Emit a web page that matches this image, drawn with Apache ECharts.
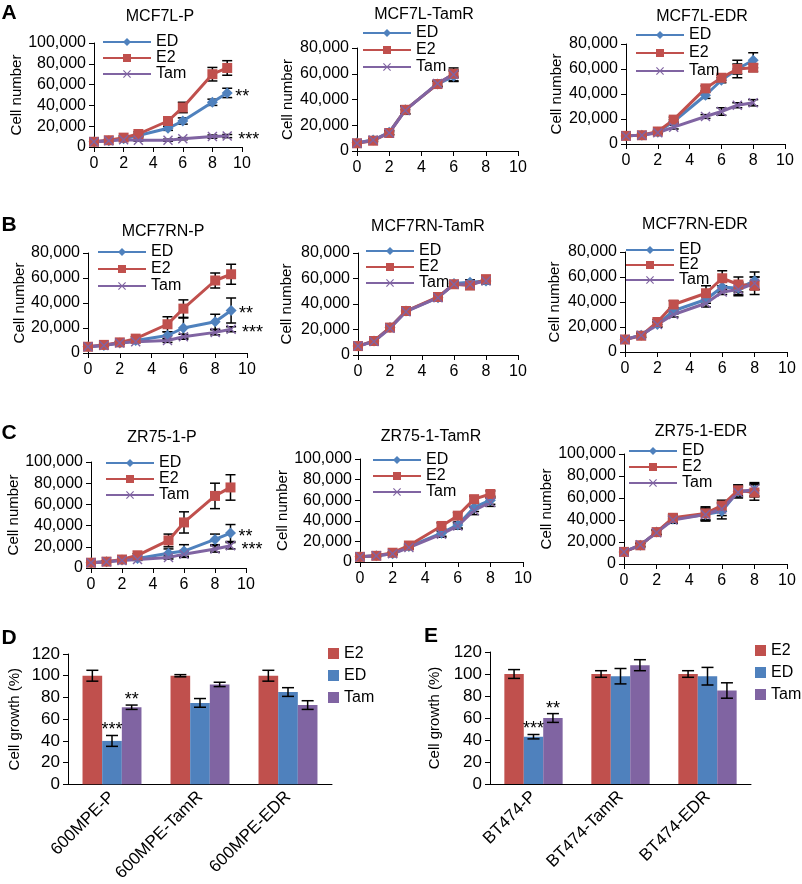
<!DOCTYPE html>
<html><head><meta charset="utf-8">
<script src="https://cdn.jsdelivr.net/npm/echarts@6/dist/echarts.min.js"></script>
<style>html,body{margin:0;padding:0;background:#fff}#c{width:802px;height:884px}</style>
</head><body><div id="c"></div>
<script>
// ---------------- DATA ----------------
const seriesNames = ['ED', 'E2', 'Tam'];
const panelTitles = ['MCF7L-P','MCF7L-TamR','MCF7L-EDR','MCF7RN-P','MCF7RN-TamR','MCF7RN-EDR','ZR75-1-P','ZR75-1-TamR','ZR75-1-EDR'];
const panelLetters = ['A','B','C','D','E'];
const xTicks = [0, 2, 4, 6, 8, 10];

// MCF7L-P
const mcf7lP_days = [0,1,2,3,5,6,8,9];
const mcf7lP_ED = [5000,6000,8000,11000,18000,25000,43000,52000];
const mcf7lP_ED_sd = [500,800,1000,1500,2000,3000,3000,4500];
const mcf7lP_E2 = [5000,6500,9000,12500,25000,38000,70000,76000];
const mcf7lP_E2_sd = [500,800,1500,2000,2500,5000,6500,7000];
const mcf7lP_Tam = [5000,6000,7000,6500,6500,8000,10000,10500];
const mcf7lP_Tam_sd = [500,500,800,800,1000,1000,1500,1500];
// MCF7L-TamR
const mcf7lT_days = [0,1,2,3,5,6];
const mcf7lT_ED = [6500,8500,14500,32000,52000,58000];
const mcf7lT_ED_sd = [1000,1000,1500,3000,2000,4000];
const mcf7lT_E2 = [6000,8000,14000,32000,52000,60000];
const mcf7lT_E2_sd = [1000,1000,1500,3000,2000,3000];
const mcf7lT_Tam = [6000,8500,14000,31500,52500,59500];
const mcf7lT_Tam_sd = [1000,1000,1500,3000,2000,5000];
// MCF7L-EDR
const mcf7lE_days = [0,1,2,3,5,6,7,8];
const mcf7lE_ED = [6500,7000,9500,18000,39000,51000,60000,67000];
const mcf7lE_ED_sd = [800,800,1000,1500,2500,2000,7000,6000];
const mcf7lE_E2 = [6500,7000,10000,19500,44500,53000,60000,61000];
const mcf7lE_E2_sd = [800,800,1000,2000,2000,2000,4000,3000];
const mcf7lE_Tam = [6500,7000,9000,13500,22000,26000,31000,33000];
const mcf7lE_Tam_sd = [800,800,800,1500,1500,3000,2000,2500];
// MCF7RN-P
const mcf7rnP_days = [0,1,2,3,5,6,8,9];
const mcf7rnP_ED = [5000,6000,8000,10000,14000,20000,25000,34000];
const mcf7rnP_ED_sd = [500,600,800,1000,3000,8000,6000,10000];
const mcf7rnP_E2 = [5000,6500,8500,11500,23000,35500,58000,63000];
const mcf7rnP_E2_sd = [500,700,1000,1500,6000,7000,6000,8000];
const mcf7rnP_Tam = [5000,6000,8000,9000,10000,13000,16500,19000];
const mcf7rnP_Tam_sd = [500,600,800,800,1500,2000,2000,2000];
// MCF7RN-TamR
const mcf7rnT_days = [0,1,2,3,5,6,7,8];
const mcf7rnT_ED = [7000,11000,21500,34500,45000,56000,57000,58000];
const mcf7rnT_ED_sd = [1000,1500,1500,2000,2500,2000,2000,2000];
const mcf7rnT_E2 = [7000,11000,21500,34500,45500,55500,54500,59500];
const mcf7rnT_E2_sd = [1000,1500,1500,2000,2500,2000,3000,2000];
const mcf7rnT_Tam = [7000,10500,21000,34000,45000,55500,55500,58000];
const mcf7rnT_Tam_sd = [1000,1500,1500,2000,2500,2000,2000,2000];
// MCF7RN-EDR
const mcf7rnE_days = [0,1,2,3,5,6,7,8];
const mcf7rnE_ED = [10000,13500,22000,33000,42000,52000,51000,57000];
const mcf7rnE_ED_sd = [1000,1500,2000,2500,3000,4000,5000,7000];
const mcf7rnE_E2 = [10000,13000,24000,38000,47000,59000,54000,53000];
const mcf7rnE_E2_sd = [1000,1500,2000,3000,6000,6000,6000,7000];
const mcf7rnE_Tam = [10000,13500,22000,30000,39000,48000,50000,55000];
const mcf7rnE_Tam_sd = [1000,1500,2000,2000,3000,2000,5000,5000];
// ZR75-1-P
const zrP_days = [0,1,2,3,5,6,8,9];
const zrP_ED = [5000,6000,7500,9000,14000,16000,27000,33000];
const zrP_ED_sd = [500,600,800,1000,4000,6000,5000,8000];
const zrP_E2 = [5000,6000,8000,12000,26000,43000,68000,76000];
const zrP_E2_sd = [500,700,1000,1500,6000,10000,12000,12000];
const zrP_Tam = [5000,6000,7000,8000,10000,13000,18000,21000];
const zrP_Tam_sd = [500,600,700,800,1500,2000,3000,3000];
// ZR75-1-TamR
const zrT_days = [0,1,2,3,5,6,7,8];
const zrT_ED = [5000,6000,8000,15000,28000,36000,53000,60000];
const zrT_ED_sd = [500,600,800,1500,3000,3000,4000,4000];
const zrT_E2 = [5000,6000,9000,16000,35000,45000,61000,66000];
const zrT_E2_sd = [500,600,800,1500,3000,3000,3000,3000];
const zrT_Tam = [5000,6000,8000,14000,27000,35000,50000,58000];
const zrT_Tam_sd = [500,600,800,1500,3000,3000,4000,4000];
// ZR75-1-EDR
const zrE_days = [0,1,2,3,5,6,7,8];
const zrE_ED = [11000,17000,29000,41000,45000,48000,66000,67000];
const zrE_ED_sd = [1000,1500,2000,3000,6000,7000,5000,6000];
const zrE_E2 = [11000,17000,29000,42000,46000,53000,67000,65000];
const zrE_E2_sd = [1000,1500,2000,3000,6000,5000,5000,7000];
const zrE_Tam = [11000,17500,28500,40000,45000,50000,65000,68000];
const zrE_Tam_sd = [1000,1500,2000,3000,5000,6000,5000,6000];
// significance marks for parental lines (at last day)
const pStarSeries = ['ED', 'Tam'];
const pStarText = ['**', '***'];

// Bar panels
const barSeriesNames = ['E2', 'ED', 'Tam'];
const dCats = ['600MPE-P', '600MPE-TamR', '600MPE-EDR'];
const dE2 = [100, 100, 100];   const dE2_sd = [5, 1, 5];
const dED = [40, 75, 85];      const dED_sd = [5, 4, 4];
const dTam = [71, 92, 73];     const dTam_sd = [2, 2, 4];
const eCats = ['BT474-P', 'BT474-TamR', 'BT474-EDR'];
const eE2 = [100, 100, 100];   const eE2_sd = [4, 3, 3];
const eED = [43, 98, 98];      const eED_sd = [2, 7, 8];
const eTam = [60, 108, 85];    const eTam_sd = [4, 5, 7];
const barStarSeries = ['ED', 'Tam'];
const barStarText = ['***', '**'];
const yLabelCell = 'Cell number';
const yLabelGrowth = 'Cell growth (%)';

// ---------------- BUILD ----------------
const FONT = '"Liberation Sans", Arial, sans-serif';
const COL = {ED:'#4F81BD', E2:'#C0504D', Tam:'#8064A2'};
const SYM = {ED:'diamond', E2:'rect', Tam:'path://M1,0 L5,4 L9,0 L10,1 L6,5 L10,9 L9,10 L5,6 L1,10 L0,9 L4,5 L0,1 Z'};
const SYMSIZE = {ED:11, E2:10, Tam:10};

const lineData = [
 {days:mcf7lP_days, ED:[mcf7lP_ED,mcf7lP_ED_sd], E2:[mcf7lP_E2,mcf7lP_E2_sd], Tam:[mcf7lP_Tam,mcf7lP_Tam_sd], ymax:100000, stars:true},
 {days:mcf7lT_days, ED:[mcf7lT_ED,mcf7lT_ED_sd], E2:[mcf7lT_E2,mcf7lT_E2_sd], Tam:[mcf7lT_Tam,mcf7lT_Tam_sd], ymax:80000},
 {days:mcf7lE_days, ED:[mcf7lE_ED,mcf7lE_ED_sd], E2:[mcf7lE_E2,mcf7lE_E2_sd], Tam:[mcf7lE_Tam,mcf7lE_Tam_sd], ymax:80000},
 {days:mcf7rnP_days, ED:[mcf7rnP_ED,mcf7rnP_ED_sd], E2:[mcf7rnP_E2,mcf7rnP_E2_sd], Tam:[mcf7rnP_Tam,mcf7rnP_Tam_sd], ymax:80000, stars:true},
 {days:mcf7rnT_days, ED:[mcf7rnT_ED,mcf7rnT_ED_sd], E2:[mcf7rnT_E2,mcf7rnT_E2_sd], Tam:[mcf7rnT_Tam,mcf7rnT_Tam_sd], ymax:80000},
 {days:mcf7rnE_days, ED:[mcf7rnE_ED,mcf7rnE_ED_sd], E2:[mcf7rnE_E2,mcf7rnE_E2_sd], Tam:[mcf7rnE_Tam,mcf7rnE_Tam_sd], ymax:80000},
 {days:zrP_days, ED:[zrP_ED,zrP_ED_sd], E2:[zrP_E2,zrP_E2_sd], Tam:[zrP_Tam,zrP_Tam_sd], ymax:100000, stars:true},
 {days:zrT_days, ED:[zrT_ED,zrT_ED_sd], E2:[zrT_E2,zrT_E2_sd], Tam:[zrT_Tam,zrT_Tam_sd], ymax:100000},
 {days:zrE_days, ED:[zrE_ED,zrE_ED_sd], E2:[zrE_E2,zrE_E2_sd], Tam:[zrE_Tam,zrE_Tam_sd], ymax:100000}
];
// layout: grid left/top/width/height, y-name gap, legend [left, top, gap], title center
const LAY = [
 {l:94, t:43, w:148, h:104, ng:70, lg:[102,34,0], tt:[160,17]},
 {l:357, t:48, w:161, h:103, ng:62, lg:[362,25,1], tt:[424,15]},
 {l:626, t:44, w:159, h:100, ng:62, lg:[635,27,2], tt:[702,17]},
 {l:88, t:253, w:159, h:100, ng:56, lg:[97,244,1], tt:[163,232]},
 {l:358, t:253, w:160, h:102, ng:64, lg:[365,243,0], tt:[428,227]},
 {l:625, t:252, w:162, h:100, ng:63, lg:[625,242,-1], tt:[695,225]},
 {l:91, t:462, w:155, h:106, ng:68, lg:[105,455,0], tt:[162,438]},
 {l:360, t:459, w:163, h:103, ng:68, lg:[372,452,0], tt:[431,437]},
 {l:624, t:454, w:163, h:110, ng:67, lg:[628,443,0], tt:[701,432]}
];
const BARLAY = [
 {l:68, t:654, w:264, h:132, ng:46, lg:[328,645], cats:dCats, vals:{E2:[dE2,dE2_sd], ED:[dED,dED_sd], Tam:[dTam,dTam_sd]}},
 {l:490, t:652, w:261, h:132, ng:48, lg:[755,642], cats:eCats, vals:{E2:[eE2,eE2_sd], ED:[eED,eED_sd], Tam:[eTam,eTam_sd]}}
];
const LETTERPOS = [[9,13],[9,225],[9,433],[9,638],[431,636]];

const fmt = v => String(v).replace(/\B(?=(\d{3})+(?!\d))/g, ',');
const txt = (size) => ({color:'#000', fontFamily:FONT, fontSize:size});

const grid = [], xAxis = [], yAxis = [], series = [], legend = [], graphic = [];

function errBar(p1, p2, w) {
  const st = {stroke:'#000', lineWidth:1.5};
  return [
    {type:'line', shape:{x1:p1[0], y1:p1[1], x2:p2[0], y2:p2[1]}, style:st},
    {type:'line', shape:{x1:p1[0]-w, y1:p1[1], x2:p1[0]+w, y2:p1[1]}, style:st},
    {type:'line', shape:{x1:p2[0]-w, y1:p2[1], x2:p2[0]+w, y2:p2[1]}, style:st}
  ];
}

lineData.forEach((pd, gi) => {
  const L = LAY[gi];
  grid.push({left:L.l, top:L.t, width:L.w, height:L.h, containLabel:false});
  xAxis.push({type:'value', gridIndex:gi, min:xTicks[0], max:xTicks[xTicks.length-1], interval:xTicks[1]-xTicks[0],
    axisLine:{lineStyle:{color:'#000', width:1}}, axisTick:{length:5, lineStyle:{color:'#000'}},
    splitLine:{show:false}, axisLabel:{...txt(16), margin:9}});
  yAxis.push({type:'value', gridIndex:gi, min:0, max:pd.ymax, interval:20000,
    axisLine:{show:true, lineStyle:{color:'#000', width:1}}, axisTick:{show:true, length:5, lineStyle:{color:'#000'}},
    splitLine:{show:false}, axisLabel:{...txt(16), margin:8, formatter:fmt},
    name:yLabelCell, nameLocation:'middle', nameGap:L.ng, nameTextStyle:txt(15)});
  const errPts = [];
  seriesNames.forEach(sn => {
    const [vals, sd] = pd[sn];
    pd.days.forEach((d,i) => errPts.push([d, vals[i]-sd[i], vals[i]+sd[i]]));
  });
  series.push({type:'custom', xAxisIndex:gi, yAxisIndex:gi, z:1, silent:true, animation:false,
    data: errPts, encode:{x:0, y:[1,2]},
    renderItem(params, api) {
      const x = api.value(0);
      const p1 = api.coord([x, api.value(2)]), p2 = api.coord([x, api.value(1)]);
      return {type:'group', children: errBar(p1, p2, 5)};
    }});
  seriesNames.forEach(sn => {
    const [vals, sd] = pd[sn];
    series.push({type:'line', name:sn, xAxisIndex:gi, yAxisIndex:gi,
      data: pd.days.map((d,i) => [d, vals[i]]),
      symbol:SYM[sn], symbolSize:SYMSIZE[sn], showAllSymbol:true,
      lineStyle:{width:3, color:COL[sn]}, itemStyle:{color:COL[sn]}, z:2, animation:false});
  });
  if (pd.stars) {
    const last = pd.days.length - 1;
    const sp = pStarSeries.map(sn => [pd.days[last], pd[sn][0][last]]);
    series.push({type:'custom', xAxisIndex:gi, yAxisIndex:gi, z:6, silent:true, animation:false,
      data: sp,
      renderItem(params, api) {
        const p = api.coord([api.value(0), api.value(1)]);
        return {type:'text', x:p[0] + (params.dataIndex === 0 ? 8 : 11), y:p[1] + 4,
          style:{text:pStarText[params.dataIndex], font:'18px ' + FONT, fill:'#000', textAlign:'left', textVerticalAlign:'middle'}};
      }});
  }
  legend.push({orient:'vertical', left:L.lg[0], top:L.lg[1], itemGap:L.lg[2], padding:0,
    itemWidth:48, itemHeight:10, selectedMode:false, data:seriesNames.slice(),
    textStyle:{...txt(16), lineHeight:16}});
  graphic.push({type:'text', x:L.tt[0], y:L.tt[1], style:{text:panelTitles[gi], font:'16px ' + FONT, fill:'#000', textAlign:'center', textVerticalAlign:'middle'}});
});

BARLAY.forEach((B, bi) => {
  const gi = 9 + bi;
  grid.push({left:B.l, top:B.t, width:B.w, height:B.h});
  xAxis.push({type:'category', gridIndex:gi, data:B.cats,
    axisLine:{lineStyle:{color:'#000'}}, axisTick:{length:5, lineStyle:{color:'#000'}},
    axisLabel:{...txt(17), rotate:45, margin:10, interval:0}});
  yAxis.push({type:'value', gridIndex:gi, min:0, max:120, interval:20,
    axisLine:{show:true, lineStyle:{color:'#000'}}, axisTick:{show:true, length:5, lineStyle:{color:'#000'}},
    splitLine:{show:false}, axisLabel:{...txt(17), margin:8},
    name:yLabelGrowth, nameLocation:'middle', nameGap:B.ng, nameTextStyle:txt(15)});
  barSeriesNames.forEach((sn) => {
    series.push({type:'bar', name:sn, xAxisIndex:gi, yAxisIndex:gi, data:B.vals[sn][0],
      barGap:'0%', barCategoryGap:'33%', itemStyle:{color:COL[sn]}, animation:false});
  });
  const ep = [];
  barSeriesNames.forEach((sn, k) => {
    const [v, sd] = B.vals[sn];
    v.forEach((val, ci) => ep.push([ci, val - sd[ci], val + sd[ci], k]));
  });
  series.push({type:'custom', xAxisIndex:gi, yAxisIndex:gi, z:5, silent:true, animation:false,
    data: ep, encode:{x:0, y:[1,2]},
    renderItem(params, api) {
      const band = api.size([1, 0])[0];
      const bw = band * 0.67 / 3;
      const off = (api.value(3) - 1) * bw;
      const p1 = api.coord([api.value(0), api.value(2)]), p2 = api.coord([api.value(0), api.value(1)]);
      p1[0] += off; p2[0] += off;
      return {type:'group', children: errBar(p1, p2, 6)};
    }});
  const sp = barStarSeries.map(sn => {
    const k = barSeriesNames.indexOf(sn);
    return [0, B.vals[sn][0][0] + B.vals[sn][1][0], k];
  });
  series.push({type:'custom', xAxisIndex:gi, yAxisIndex:gi, z:6, silent:true, animation:false,
    data: sp, encode:{x:0, y:1},
    renderItem(params, api) {
      const band = api.size([1, 0])[0];
      const bw = band * 0.67 / 3;
      const p = api.coord([api.value(0), api.value(1)]);
      return {type:'text', x:p[0] + (api.value(2) - 1) * bw, y:p[1] - 5,
        style:{text:barStarText[params.dataIndex], font:'18px ' + FONT, fill:'#000', textAlign:'center', textVerticalAlign:'middle'}};
    }});
  legend.push({orient:'vertical', left:B.lg[0], top:B.lg[1], itemGap:5, padding:0,
    itemWidth:11, itemHeight:11, selectedMode:false,
    data: barSeriesNames.map(n => ({name:n, icon:'rect', itemStyle:{color:COL[n]}})),
    textStyle:{...txt(16), lineHeight:17}});
});

panelLetters.forEach((t, i) => {
  graphic.push({type:'text', x:LETTERPOS[i][0], y:LETTERPOS[i][1], style:{text:t, font:'bold 21px ' + FONT, fill:'#000', textAlign:'center', textVerticalAlign:'middle'}});
});

const chart = echarts.init(document.getElementById('c'), null, {renderer:'canvas'});
chart.setOption({backgroundColor:'#fff', animation:false, textStyle:{fontFamily:FONT},
  grid, xAxis, yAxis, series, legend, graphic});
</script></body></html>
